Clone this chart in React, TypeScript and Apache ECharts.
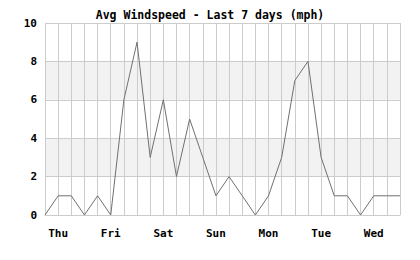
import React, { useEffect, useRef } from "react";
import * as echarts from "echarts";

const titleText = "Avg Windspeed - Last 7 days (mph)";

const slots = [
  "Wed 18:00",
  "Thu 00:00", "Thu 06:00", "Thu 12:00", "Thu 18:00",
  "Fri 00:00", "Fri 06:00", "Fri 12:00", "Fri 18:00",
  "Sat 00:00", "Sat 06:00", "Sat 12:00", "Sat 18:00",
  "Sun 00:00", "Sun 06:00", "Sun 12:00", "Sun 18:00",
  "Mon 00:00", "Mon 06:00", "Mon 12:00", "Mon 18:00",
  "Tue 00:00", "Tue 06:00", "Tue 12:00", "Tue 18:00",
  "Wed 00:00", "Wed 06:00", "Wed 12:00",
];

const windspeed = [
  0,
  1, 1, 0, 1,
  0, 6, 9, 3,
  6, 2, 5, 3,
  1, 2, 1, 0,
  1, 3, 7, 8,
  3, 1, 1, 0,
  1, 1, 1,
];

const yTicks = [0, 2, 4, 6, 8, 10];

const FONT = "'DejaVu Sans Mono', monospace";

export default function App() {
  const ref = useRef<HTMLDivElement>(null);
  useEffect(() => {
    if (!ref.current) return;
    const chart = echarts.init(ref.current, null, { renderer: "svg" });
    chart.setOption({
      animation: false,
      backgroundColor: "#ffffff",
      title: {
        text: titleText,
        left: "center",
        top: 4,
        textStyle: { fontFamily: FONT, fontWeight: "bold", fontSize: 11.5, color: "#000" },
      },
      grid: { left: 45, right: 20, top: 23, bottom: 45 },
      xAxis: {
        type: "category",
        data: slots,
        boundaryGap: false,
        axisTick: { show: false },
        axisLine: { show: true, lineStyle: { color: "#cccccc", width: 1 } },
        axisLabel: {
          interval: 0,
          margin: 13,
          fontFamily: FONT,
          fontWeight: "bold",
          fontSize: 11,
          color: "#000",
          formatter: (v: string) => (v.endsWith("00:00") ? v.slice(0, 3) : ""),
        },
        splitLine: { show: true, interval: 0, lineStyle: { color: "#cccccc", width: 1 } },
      },
      yAxis: {
        type: "value",
        min: yTicks[0],
        max: yTicks[yTicks.length - 1],
        interval: 2,
        axisTick: { show: false },
        axisLine: { show: false },
        axisLabel: {
          margin: 8,
          fontFamily: FONT,
          fontWeight: "bold",
          fontSize: 11,
          color: "#000",
        },
        splitLine: { show: true, lineStyle: { color: "#cccccc", width: 1 } },
        splitArea: { show: true, areaStyle: { color: ["rgba(255,255,255,0)", "#f2f2f2"] } },
      },
      series: [
        {
          type: "line",
          data: windspeed,
          symbol: "none",
          lineStyle: { color: "#707070", width: 1 },
        },
      ],
    });
    return () => chart.dispose();
  }, []);
  return (
    <div
      ref={ref}
      style={{ position: "absolute", left: 0, top: 0, width: 420, height: 260 }}
    />
  );
}
